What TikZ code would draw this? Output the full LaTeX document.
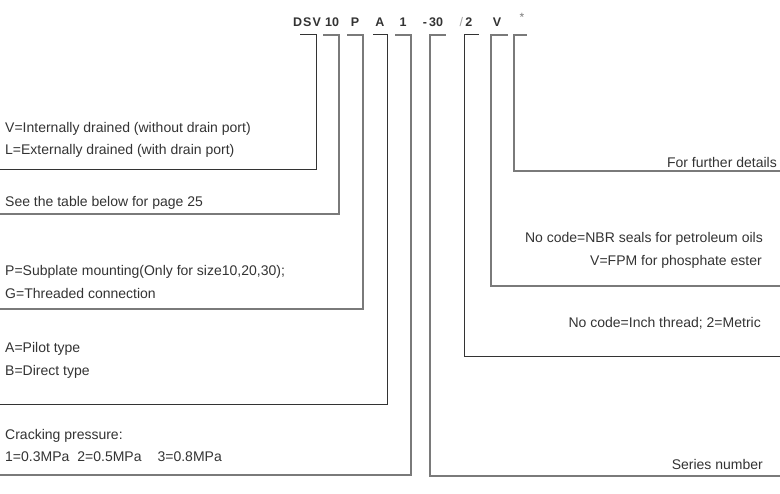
\documentclass[tikz,border=0pt]{standalone}
\usepackage{fontspec}
\setmainfont{Liberation Sans}
\usepackage{xcolor}
\usetikzlibrary{positioning,calc}
\definecolor{ink}{HTML}{333333}
\definecolor{faint}{HTML}{7A7A7A}
\definecolor{pale}{HTML}{A0A0A0}
\tikzset{
  code label/.style={
    inner sep=0pt,
    anchor=base,
    font=\fontsize{12.5}{14}\selectfont\bfseries,
    text=ink,
  },
  left text/.style={
    inner sep=0pt,
    anchor=west,
    font=\fontsize{14}{16}\selectfont,
    text=ink,
  },
  right text/.style={
    left text,
    anchor=east,
  },
  dark lead/.style={
    draw=ink,
    line width=1pt,
  },
  grey lead/.style={
    draw=faint,
    line width=1.3pt,
  },
}
\begin{document}
\begin{tikzpicture}[
            x=1pt, y=-1pt, % one unit = one pixel, y downwards
            line cap=rect
        ]
        \useasboundingbox (0,0) rectangle (780,494);

        % the code on top
        \node[code label] (dsv) at (307,27) {D\kern1pt S\kern1pt V};
        \node[code label] (size) at (332,27) {10};
        \node[code label] (mount) at (355,27) {P};
        \node[code label] (type) at (380,27) {A};
        \node[code label] (press) at (403,27) {1};
        \node[code label] (series) at (433,27) {-\,30};
        \node[code label] (thread) at (466,27) {{\color{pale}\mdseries/}\,2};
        \node[code label] (seal) at (497,27) {V};
        \node[code label, text=faint, font=\fontsize{12}{12}\selectfont] (more) at (522,22) {*};

        % texts on the left
        \node[left text] (drain1) at (5,129) {V=Internally drained (without drain port)};
        \node[left text] (drain2) at (5,151) {L=Externally drained (with drain port)};
        \node[left text] (page) at (5,203) {See the table below for page 25};
        \node[left text] (mount1) at (5,272) {P=Subplate mounting(Only for size10,20,30);};
        \node[left text] (mount2) at (5,293) {G=Threaded connection};
        \node[left text] (type1) at (5,349) {A=Pilot type};
        \node[left text] (type2) at (5,372) {B=Direct type};
        \node[left text] (press1) at (5,436) {Cracking pressure:};
        \node[left text] (press2) at (5,457) {1=0.3MPa\hspace{8pt}2=0.5MPa\hspace{16pt}3=0.8MPa};

        % texts on the right
        \node[right text] (more1) at (777,162) {For further details};
        \node[right text] (seal1) at (763,239) {No code=NBR seals for petroleum oils};
        \node[right text] (seal2) at (762,262) {V=FPM for phosphate ester};
        \node[right text] (thread1) at (761,323) {No code=Inch thread; 2=Metric};
        \node[right text] (series1) at (763,464) {Series number};

        % corners of the leads
        \coordinate (dsv a) at (300,35);    \coordinate (dsv b) at (316,170);    \coordinate (dsv c) at (0,170);
        \coordinate (size a) at (324,35);   \coordinate (size b) at (339,214);   \coordinate (size c) at (0,214);
        \coordinate (mount a) at (348,35);  \coordinate (mount b) at (363,309);  \coordinate (mount c) at (0,309);
        \coordinate (type a) at (373,35);   \coordinate (type b) at (387,405);   \coordinate (type c) at (0,405);
        \coordinate (press a) at (396,35);  \coordinate (press b) at (411,475);  \coordinate (press c) at (0,475);
        \coordinate (series a) at (445,35); \coordinate (series b) at (430,476); \coordinate (series c) at (780,476);
        \coordinate (thread a) at (478,35); \coordinate (thread b) at (464,357); \coordinate (thread c) at (780,357);
        \coordinate (seal a) at (507,35);   \coordinate (seal b) at (491,286);   \coordinate (seal c) at (780,286);
        \coordinate (more a) at (526,35);   \coordinate (more b) at (514,171);   \coordinate (more c) at (780,171);

        \draw[dark lead] (dsv a) -| (dsv b) -- (dsv c);
        \draw[grey lead] (size a) -| (size b) -- (size c);
        \draw[grey lead] (mount a) -| (mount b) -- (mount c);
        \draw[dark lead] (type a) -| (type b) -- (type c);
        \draw[grey lead] (press a) -| (press b) -- (press c);
        \draw[grey lead] (series a) -| (series b) -- (series c);
        \draw[dark lead] (thread a) -| (thread b) -- (thread c);
        \draw[grey lead] (seal a) -| (seal b) -- (seal c);
        \draw[grey lead] (more a) -| (more b) -- (more c);
    \end{tikzpicture}
\end{document}
